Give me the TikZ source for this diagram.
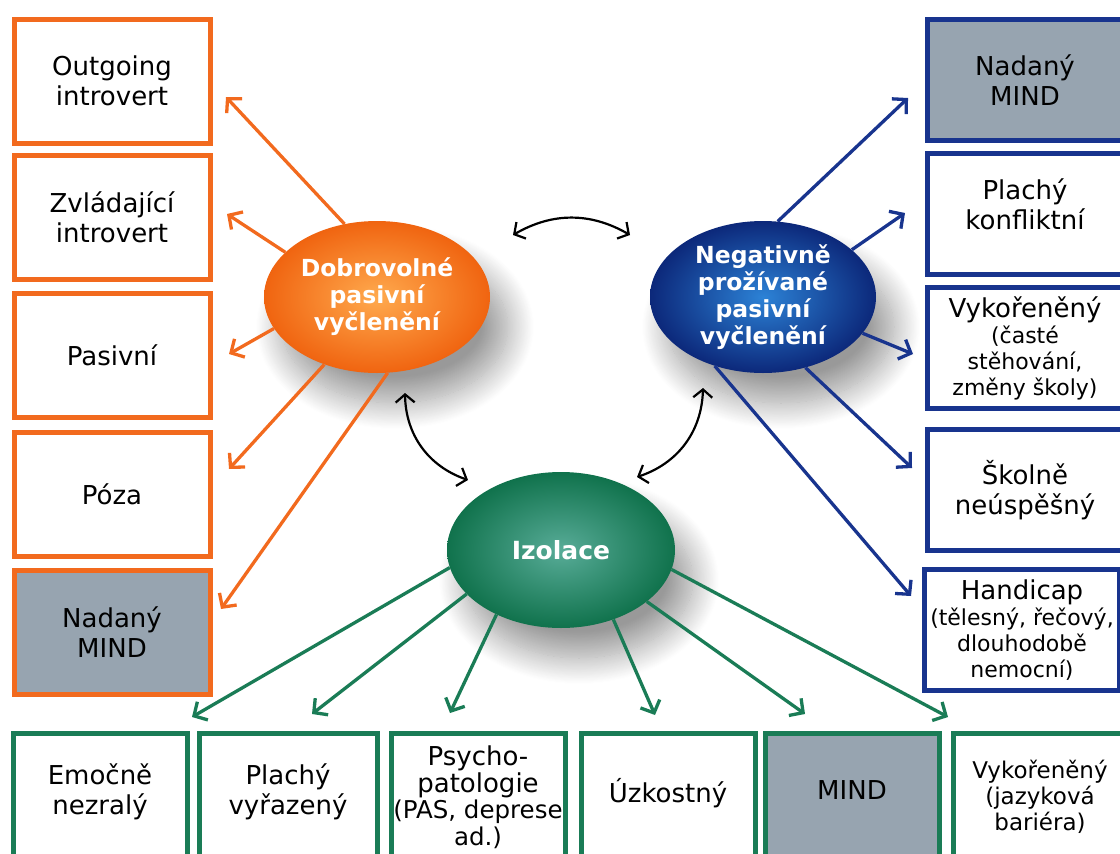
\documentclass[tikz,border=0pt]{standalone}
\usepackage{fontspec}
\setmainfont{DejaVu Sans}
\usetikzlibrary{shapes.geometric,arrows.meta,shadows.blur}

\definecolor{dobcol}{RGB}{242,106,30}
\definecolor{dobdark}{RGB}{240,100,16}
\definecolor{dobhi}{RGB}{255,170,78}
\definecolor{negcol}{RGB}{24,52,142}
\definecolor{negdark}{RGB}{12,40,122}
\definecolor{neghi}{RGB}{44,130,214}
\definecolor{izocol}{RGB}{26,124,86}
\definecolor{izodark}{RGB}{16,114,76}
\definecolor{izohi}{RGB}{88,172,152}
\definecolor{mindgray}{RGB}{151,164,176}

\newcommand\boxfont{\fontsize{26}{30}\selectfont}
\newcommand\smallboxfont{\fontsize{22}{26}\selectfont}

\tikzset{
  box/.style={draw, line width=5pt, inner sep=0pt, align=center, font=\boxfont},
  obox/.style={box, draw=dobcol, minimum width=196pt, minimum height=124pt},
  bbox/.style={box, draw=negcol, minimum width=195pt, minimum height=121pt},
  gbox/.style={box, draw=izocol, minimum width=174pt, minimum height=128pt},
  mind/.style={fill=mindgray},
  bubble/.style={ellipse, inner sep=0pt, minimum width=226pt, minimum height=152pt,
    text=white, align=center, font=\bfseries\fontsize{23.5}{27}\selectfont,
    blur shadow={shadow xshift=18pt, shadow yshift=-30pt, shadow blur radius=26pt,
      shadow blur steps=30, shadow opacity=40}},
  arr/.style={line width=3.3pt, -{Straight Barb[length=10pt,width=21pt]}},
  twoway/.style={line width=2.2pt, {Straight Barb[length=8pt,width=19pt]}-{Straight Barb[length=8pt,width=19pt]}}
}

\begin{document}
\begin{tikzpicture}[x=1pt,y=-1pt]
  \useasboundingbox (0,0) rectangle (1120,854);
  \clip (0,0) rectangle (1120,854);

  % left column
  \node[obox] (outgoing) at (112,81) {Outgoing\\introvert};
  \node[obox] (zvladajici) at (112,217) {Zvládající\\introvert};
  \node[obox] (pasivni) at (112,355) {Pasivní};
  \node[obox] (poza) at (112,494) {Póza};
  \node[obox, mind] (nadanyL) at (112,632) {Nadaný\\MIND};

  % right column
  \node[bbox, mind] (nadanyR) at (1025,80) {Nadaný\\MIND};
  \node[bbox] (konfliktni) at (1025,214) {Plachý\\konfliktní\\[-10pt]};
  \node[bbox, font=\smallboxfont] (vykorenenyR) at (1025,348) {{\boxfont Vykořeněný}\\(časté\\stěhování,\\změny školy)};
  \node[bbox] (skolne) at (1025,490) {Školně\\neúspěšný};
  \node[bbox, font=\smallboxfont] (handicap) at (1022,630) {{\boxfont Handicap}\\(tělesný, řečový,\\dlouhodobě\\nemocní)};

  % bottom row
  \node[gbox] (emocne) at (100,797) {Emočně\\nezralý\\[-14pt]};
  \node[gbox, minimum width=178pt] (vyrazeny) at (288,797) {Plachý\\vyřazený\\[-14pt]};
  \node[gbox, font=\fontsize{24.5}{26.5}\selectfont] (psycho) at (478,797) {{\boxfont Psycho-}\\{\boxfont patologie}\\(PAS, deprese\\ad.)};
  \node[gbox] (uzkostny) at (668,797) {Úzkostný\\[-16pt]};
  \node[gbox, mind] (mindB) at (852,797) {MIND\\[-16pt]};
  \node[gbox, font=\fontsize{23}{26}\selectfont] (vykorenenyB) at (1040,797) {Vykořeněný\\(jazyková\\bariéra)};

  % the three bubbles
  \node[bubble, shading=radial, inner color=dobhi, outer color=dobdark] (dob) at (377,297) {Dobrovolné\\pasivní\\vyčlenění};
  \node[bubble, shading=radial, inner color=neghi, outer color=negdark] (neg) at (763,297) {Negativně\\prožívané\\pasivní\\vyčlenění};
  \node[bubble, shading=radial, inner color=izohi, outer color=izodark, minimum width=228pt, minimum height=156pt, font=\bfseries\fontsize{25}{27}\selectfont] (izo) at (561,550) {Izolace};

  % arrow tips
  \coordinate (o1) at (226,97);
  \coordinate (o2) at (227,214);
  \coordinate (o3) at (229,354);
  \coordinate (o4) at (229,469);
  \coordinate (o5) at (221,609);
  \coordinate (b1) at (908,98);
  \coordinate (b2) at (905,213);
  \coordinate (b3) at (913,354);
  \coordinate (b4) at (912,468);
  \coordinate (b5) at (911,596);
  \coordinate (g1) at (192,717);
  \coordinate (g2) at (312,714);
  \coordinate (g3) at (450,713);
  \coordinate (g4) at (655,715);
  \coordinate (g5) at (805,714);
  \coordinate (g6) at (948,717);

  \foreach \a/\t in {114/o1, 154/o2, 197/o3, 232/o4, 278/o5}
    \draw[arr, dobcol] (dob.\a) -- (\t);
  \foreach \a/\t in {79/b1, 28/b2, 340/b3, 301/b4, 235/b5}
    \draw[arr, negcol] (neg.\a) -- (\t);
  \foreach \a/\t in {189/g1, 205/g2, 225/g3, 307/g4, 329/g5, 350/g6}
    \draw[arr, izocol] (izo.\a) -- (\t);

  % links between the bubbles
  \coordinate (k1a) at (513,235);
  \coordinate (k1b) at (630,235);
  \coordinate (k2a) at (405,393);
  \coordinate (k2b) at (468,480);
  \coordinate (k3a) at (703,388);
  \coordinate (k3b) at (637,477);
  \draw[twoway] (k1a) to[bend left=30] (k1b);
  \draw[twoway] (k2a) to[bend right=35] (k2b);
  \draw[twoway] (k3a) to[bend left=35] (k3b);

\end{tikzpicture}
\end{document}
